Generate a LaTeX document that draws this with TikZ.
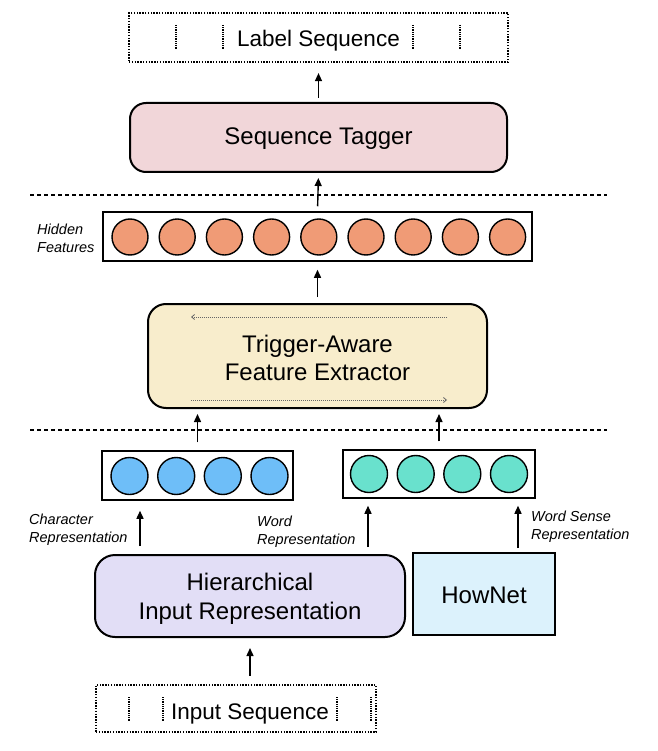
\documentclass[tikz,border=0pt]{standalone}
\usepackage{fontspec}
\setmainfont{Liberation Sans}
\usetikzlibrary{arrows.meta,calc}
\definecolor{tagpink}{HTML}{F1D6D9}
\definecolor{extyellow}{HTML}{F8EDCC}
\definecolor{hidorange}{HTML}{F09B76}
\definecolor{charblue}{HTML}{6EBEF8}
\definecolor{wordgreen}{HTML}{69E1CD}
\definecolor{hierlav}{HTML}{E2DEF6}
\definecolor{hnblue}{HTML}{DCF2FC}
% text whose last baseline sits #1 below the node centre
\newcommand{\btxt}[2]{\raisebox{-#1}[0pt][0pt]{\begin{tabular}[b]{@{}c@{}}#2\end{tabular}}}
\begin{document}
\begin{tikzpicture}[x=1pt,y=-1pt,
  rbox/.style={draw, line width=2pt, rounded corners=16pt, inner sep=0pt, font=\fontsize{24}{28.5}\selectfont},
  vecbox/.style={draw, line width=1.5pt, inner sep=0pt},
  unit/.style={circle, draw, line width=1.4pt, minimum size=36pt, inner sep=0pt},
  seqbox/.style={draw, line width=2.2pt, dash pattern=on 1.4pt off 1.4pt, inner sep=0pt, font=\fontsize{22.5}{27}\selectfont},
  seqsep/.style={line width=1.4pt, dash pattern=on 0.9pt off 0.9pt},
  sep/.style={line width=1.4pt, dash pattern=on 4pt off 3pt},
  lab/.style={font=\itshape\fontsize{14.5}{18}\selectfont, align=left, anchor=west, inner sep=0pt},
  arr/.style={-{Triangle[length=8pt,width=7pt]}, line width=1.4pt},
  inarr/.style={-{Straight Barb[length=3pt,width=5pt]}, line width=0.8pt, draw=black!60, dash pattern=on 1pt off 1pt}]
\useasboundingbox (0,0) rectangle (657,751);

% Label sequence
\node[seqbox, minimum width=379pt, minimum height=49pt] (labelseq) at (318.5,37.5) {\btxt{9pt}{Label Sequence}};
\foreach \x in {176,223,413,460} \draw[seqsep] (\x,25) -- (\x,50);

% Sequence tagger
\node[rbox, fill=tagpink, minimum width=377pt, minimum height=69pt] (tagger) at (318.5,137.5) {\btxt{7.5pt}{Sequence Tagger}};

% separators
\coordinate (sl1) at (30,195); \coordinate (sr1) at (607,195);
\coordinate (sl2) at (30,430); \coordinate (sr2) at (607,430);
\draw[sep] (sl1) -- (sr1);
\draw[sep] (sl2) -- (sr2);

% hidden features
\node[vecbox, minimum width=429pt, minimum height=49pt] (hidden) at (317.5,236.5) {};
\foreach \i in {0,...,8} \node[unit, fill=hidorange] (h\i) at ({130+47.2*\i},237) {};
\node[lab] (hidlab) at (37,238) {Hidden\\Features};

% extractor
\node[rbox, fill=extyellow, minimum width=339pt, minimum height=104pt, rounded corners=18pt] (ext) at (317.5,356) {\btxt{24.5pt}{Trigger-Aware\\Feature Extractor}};
\draw[inarr] ([shift={(-41,14)}]ext.north east) -- ([shift={(44,14)}]ext.north west);
\draw[inarr] ([shift={(44,-9)}]ext.south west) -- ([shift={(-41,-9)}]ext.south east);

% char / word vectors
\node[vecbox, minimum width=191pt, minimum height=49pt] (charvec) at (197.5,475.5) {};
\foreach \i/\d in {0/-68,1/-21.3,2/25.3,3/72} \node[unit, fill=charblue, minimum size=37pt] (c\i) at ({197.5+\d},476) {};
\node[vecbox, minimum width=192pt, minimum height=48pt] (wordvec) at (439,474) {};
\foreach \i/\d in {0/-70,1/-23.3,2/23.3,3/70} \node[unit, fill=wordgreen, minimum size=37pt] (w\i) at ({439+\d},474) {};

% bottom boxes
\node[rbox, fill=hierlav, minimum width=310pt, minimum height=82pt, rounded corners=20pt] (hier) at (250,596) {\btxt{23pt}{Hierarchical\\Input Representation}};
\node[draw, line width=2pt, fill=hnblue, minimum width=142pt, minimum height=82pt, inner sep=0pt, font=\fontsize{24}{29}\selectfont] (hownet) at (484,594) {\btxt{9pt}{HowNet}};

% input sequence
\node[seqbox, minimum width=280pt, minimum height=47pt] (inseq) at (236,708.5) {};
\node[font=\fontsize{22.5}{27}\selectfont, inner sep=0pt, anchor=base] (intext) at (250,719) {Input Sequence};
\foreach \x in {129,163,337,371} \draw[seqsep] (\x,697) -- (\x,722);

% labels
\node[lab] (charlab) at (29,530) {Character\\Representation};
\node[lab] (wordlab) at (257,532) {Word\\Representation};
\node[lab] (senselab) at (531,527) {Word Sense\\Representation};

% arrows
\coordinate (xc) at (140,0);
\coordinate (xw) at (368,0);
\coordinate (xs) at (518,0);
\draw[arr, shorten <=4pt, shorten >=10pt] (tagger.north) -- (labelseq.south);
\draw[arr, shorten <=5pt, shorten >=5pt] (hidden.north) -- (tagger.south);
\draw[arr, shorten <=6pt, shorten >=8pt] (ext.north) -- (hidden.south);
\draw[arr, shorten <=8pt, shorten >=5pt] (charvec.north) -- (charvec.north |- ext.south);
\draw[arr, shorten <=8pt, shorten >=5pt] (wordvec.north) -- (wordvec.north |- ext.south);
\draw[arr, shorten <=8pt, shorten >=10pt] (hier.north -| xc) -- (charvec.south -| xc);
\draw[arr, shorten <=7pt, shorten >=7pt] (hier.north -| xw) -- (wordvec.south -| xw);
\draw[arr, shorten <=4pt, shorten >=7pt] (hownet.north -| xs) -- (wordvec.south -| xs);
\draw[arr, shorten <=8pt, shorten >=10pt] (inseq.north -| intext) -- (hier.south);
\end{tikzpicture}
\end{document}
